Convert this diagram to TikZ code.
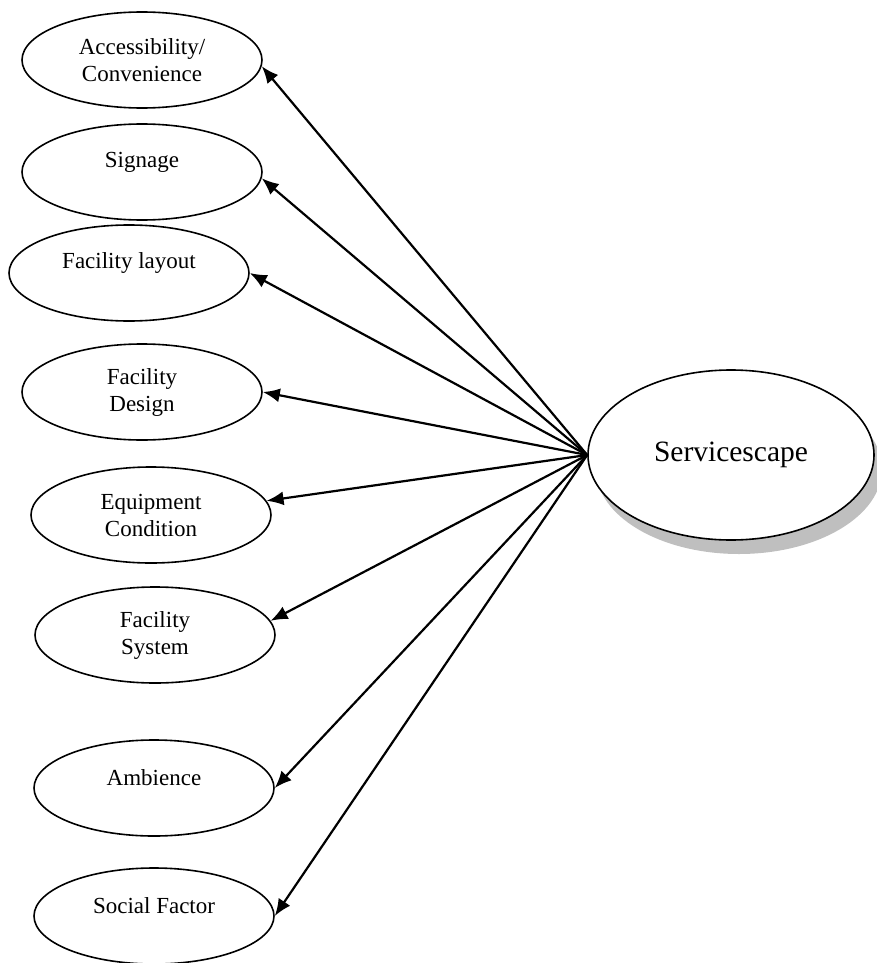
\documentclass[tikz,border=0pt]{standalone}
\usepackage{fontspec}
\setmainfont{Liberation Serif}
\usetikzlibrary{arrows.meta,shapes.geometric,shadows}
\newcommand{\upone}[1]{\raisebox{10pt}[\height][\depth]{#1}}
\begin{document}
\begin{tikzpicture}[x=1pt,y=-1pt,
  factor/.style={ellipse, draw, line width=1.6pt, minimum width=240pt, minimum height=96pt,
    inner sep=0pt, align=center, font=\fontsize{23}{27}\selectfont},
  hub/.style={ellipse, draw, line width=1.6pt, fill=white, minimum width=286pt, minimum height=170pt,
    inner sep=0pt, font=\fontsize{29.5}{34}\selectfont,
    drop shadow={shadow xshift=8pt, shadow yshift=-14pt, fill=black!25, opacity=1}},
  link/.style={line width=2.2pt, -{Latex[length=17pt,width=14pt]}}]
\useasboundingbox (0,0) rectangle (876,963);

\node[factor] (acc) at (142,60)  {Accessibility/\\Convenience};
\node[factor] (sig) at (142,172) {\upone{Signage}};
\node[factor] (lay) at (129,273) {\upone{Facility layout}};
\node[factor] (des) at (142,392) {Facility\\Design};
\node[factor] (eqp) at (151,515) {Equipment\\Condition};
\node[factor] (sys) at (155,635) {Facility\\System};
\node[factor] (amb) at (154,788) {\upone{Ambience}};
\node[factor] (soc) at (154,916) {\upone{Social Factor}};

\node[hub] (srv) at (731,455) {Servicescape};

\draw[link] (srv.west) -- (acc.-3);
\draw[link] (srv.west) -- (sig.-3);
\draw[link] (srv.west) -- (lay.east);
\draw[link] (srv.west) -- (des.east);
\draw[link] (srv.west) -- (eqp.7);
\draw[link] (srv.west) -- (sys.7);
\draw[link] (srv.west) -- (amb.east);
\draw[link] (srv.west) -- (soc.east);
\end{tikzpicture}
\end{document}
